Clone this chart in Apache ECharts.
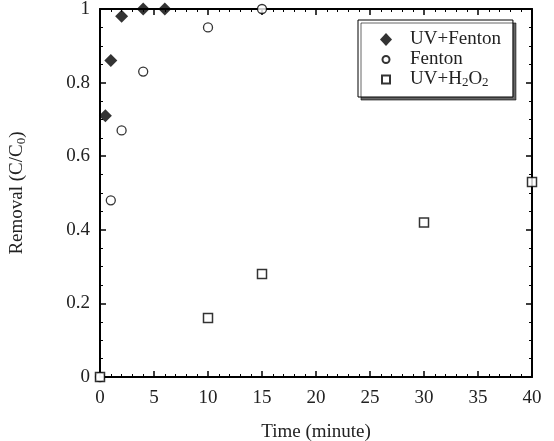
<!DOCTYPE html>
<html>
<head>
<meta charset="utf-8">
<script src="https://cdn.jsdelivr.net/npm/echarts@6/dist/echarts.min.js"></script>
<style>
  html, body { margin: 0; padding: 0; background: #fff; }
  #chart { width: 554px; height: 441px; }
</style>
</head>
<body>
<div id="chart"></div>
<script>
// data (time in minutes, removal C/C0)
var uvFenton = [[0.5, 0.71], [1, 0.86], [2, 0.98], [4, 1.0], [6, 1.0]];
var fenton = [[0, 0], [1, 0.48], [2, 0.67], [4, 0.83], [10, 0.95], [15, 1.0]];
var uvH2o2 = [[0, 0], [10, 0.16], [15, 0.28], [30, 0.42], [40, 0.53]];
var seriesNames = ['UV+Fenton', 'Fenton', 'UV+H2O2'];

var serif = '"Liberation Serif", "DejaVu Serif", serif';
var ink = '#222';
var subStyle = { fontSize: 13, fontFamily: serif, color: ink, verticalAlign: 'bottom', padding: [9, 0, 0, 0] };

// 坐标轴公共样式
function axisStyle(showLabel) {
    return {
        axisLine: { show: true, onZero: false, lineStyle: { color: '#000', width: 2 } },
        axisTick: { show: true, inside: true, length: 6, lineStyle: { color: '#000', width: 1.5 } },
        minorTick: { show: true, length: 3, lineStyle: { color: '#000', width: 1 } },
        splitLine: { show: false },
        axisLabel: { show: showLabel, color: ink, fontFamily: serif, fontSize: 19 }
    };
}

function xAxis(pos, showLabel) {
    var a = axisStyle(showLabel);
    a.type = 'value';
    a.position = pos;
    a.min = 0; a.max = 40; a.interval = 5;
    a.minorTick.splitNumber = 5;
    a.axisLabel.margin = 12;
    return a;
}

function yAxis(pos, showLabel) {
    var a = axisStyle(showLabel);
    a.type = 'value';
    a.position = pos;
    a.min = 0; a.max = 1; a.interval = 0.2;
    a.minorTick.splitNumber = 4;
    a.axisLabel.margin = 10;
    a.axisLabel.formatter = function (v) { return String(Math.round(v * 10) / 10); };
    return a;
}

var xBottom = xAxis('bottom', true);
xBottom.name = 'Time (minute)';
xBottom.nameLocation = 'middle';
xBottom.nameGap = 46;
xBottom.nameTextStyle = { color: ink, fontFamily: serif, fontSize: 19 };
var xTop = xAxis('top', false);

var yLeft = yAxis('left', true);
yLeft.name = 'Removal (C/C{sub|0})';
yLeft.nameLocation = 'middle';
yLeft.nameGap = 72;
yLeft.nameTextStyle = { color: ink, fontFamily: serif, fontSize: 19, rich: { sub: subStyle } };
var yRight = yAxis('right', false);

var chart = echarts.init(document.getElementById('chart'));
chart.setOption({
    animation: false,
    backgroundColor: '#fff',
    grid: { left: 100, right: 22, top: 9, bottom: 64, containLabel: false, outerBoundsMode: 'none' },
    xAxis: [xBottom, xTop],
    yAxis: [yLeft, yRight],
    legend: {
        orient: 'vertical',
        left: 358, top: 20,
        data: [
            { name: 'UV+Fenton', icon: 'diamond' },
            { name: 'Fenton', icon: 'path://M0,0M12,12M2.5,6A3.5,3.5,0,1,1,9.5,6A3.5,3.5,0,1,1,2.5,6Z' },
            { name: 'UV+H2O2', icon: 'path://M0,0M12,12M2,2L10,2L10,10L2,10Z' }
        ],
        backgroundColor: '#fff',
        borderColor: '#000', borderWidth: 1,
        shadowColor: 'rgba(0,0,0,0.6)', shadowOffsetX: 3, shadowOffsetY: 3, shadowBlur: 0,
        padding: [10, 12, 8, 21],
        itemWidth: 12, itemHeight: 13, itemGap: 1,
        textStyle: {
            color: ink, fontFamily: serif, fontSize: 19, lineHeight: 19,
            rich: {
                t: { fontSize: 19, fontFamily: serif, color: ink, padding: [0, 0, 0, 13] },
                n: { fontSize: 19, fontFamily: serif, color: ink },
                sub: subStyle
            }
        },
        formatter: function (name) {
            return name === 'UV+H2O2' ? '{t|UV+H}{sub|2}{n|O}{sub|2}' : '{t|' + name + '}';
        }
    },
    series: [
        {
            name: 'UV+Fenton', type: 'scatter', data: uvFenton, clip: false,
            symbol: 'diamond', symbolSize: 13,
            itemStyle: { color: '#000' }, z: 5
        },
        {
            name: 'Fenton', type: 'scatter', data: fenton, clip: false,
            symbol: 'circle', symbolSize: 9,
            itemStyle: { color: '#fff', borderColor: '#000', borderWidth: 1.3 }, z: 4
        },
        {
            name: 'UV+H2O2', type: 'scatter', data: uvH2o2, clip: false,
            symbol: 'rect', symbolSize: 9,
            itemStyle: { color: '#fff', borderColor: '#000', borderWidth: 1.5 }, z: 4
        }
    ]
});
</script>
</body>
</html>
